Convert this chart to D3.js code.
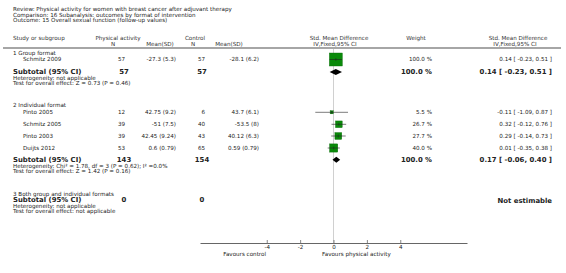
<!DOCTYPE html>
<html><head><meta charset="utf-8">
<script src="https://cdn.jsdelivr.net/npm/d3@7"></script>
<style>
body{margin:0;background:#fff;}
svg{display:block;font-family:"DejaVu Sans",Verdana,sans-serif;}
</style></head>
<body><svg id="c" width="566" height="273"></svg>
<script>
// ---- data ----
const titleLines = [
  "Review:  Physical activity for women with breast cancer after adjuvant therapy",
  "Comparison:  16 Subanalysis: outcomes by format of intervention",
  "Outcome:  15 Overall sexual function (follow-up values)"
];
const groupNames = ["1 Group format", "2 Individual format", "3 Both group and individual formats"];
const studies   = ["Schmitz 2009", "Pinto 2005", "Schmitz 2005", "Pinto 2003", "Duijts 2012"];
const studyGroup = [0, 1, 1, 1, 1];
const expN    = [57, 12, 39, 39, 53];
const expMSD  = ["-27.3 (5.3)", "42.75 (9.2)", "-51 (7.5)", "42.45 (9.24)", "0.6 (0.79)"];
const ctlN    = [57, 6, 40, 43, 65];
const ctlMSD  = ["-28.1 (6.2)", "43.7 (6.1)", "-53.5 (8)", "40.12 (6.3)", "0.59 (0.79)"];
const smd     = [0.14, -0.11, 0.32, 0.29, 0.01];
const smdLo   = [-0.23, -1.09, -0.12, -0.14, -0.35];
const smdHi   = [0.51, 0.87, 0.76, 0.73, 0.38];
const weight  = [100.0, 5.5, 26.7, 27.7, 40.0];
const subExpN = [57, 143, 0];
const subCtlN = [57, 154, 0];
const subSmd  = [0.14, 0.17, null];
const subLo   = [-0.23, -0.06, null];
const subHi   = [0.51, 0.40, null];
const subWeight = ["100.0 %", "100.0 %", ""];
const heterogeneity = ["Heterogeneity: not applicable",
  "Heterogeneity: Chi\u00B2 = 1.78, df = 3 (P = 0.62); I\u00B2 =0.0%",
  "Heterogeneity: not applicable"];
const overallTest = ["Test for overall effect: Z = 0.73 (P = 0.46)",
  "Test for overall effect: Z = 1.42 (P = 0.16)",
  "Test for overall effect: not applicable"];
const axisTicks = [-4, -2, 0, 2, 4];
const favourLabels = ["Favours control", "Favours physical activity"];

// ---- layout ----
const svg = d3.select("#c");
const fs = 5.6, fsB = 6.9;
const txt = "#222", hdr = "#333";
const x = d3.scaleLinear().domain([-8, 8]).range([200, 467]);
const axisY = 243, topLine = 48;

function t(xp, yp, s, opt = {}) {
  return svg.append("text").attr("x", xp).attr("y", yp).attr("dy", "0.35em")
    .attr("font-size", opt.size || fs).attr("font-weight", opt.bold ? "bold" : null)
    .attr("text-anchor", opt.anchor || "start").attr("fill", opt.fill || txt).text(s);
}

titleLines.forEach((s, i) => t(13, 9.5 + i * 5.3, s));

// headers
t(13, 38, "Study or subgroup", {fill: hdr});
t(118, 38, "Physical activity", {anchor: "middle", fill: hdr});
t(113, 44, "N", {anchor: "middle", fill: hdr});
t(160, 44, "Mean(SD)", {anchor: "middle", fill: hdr});
t(195, 38, "Control", {anchor: "middle", fill: hdr});
t(193, 44, "N", {anchor: "middle", fill: hdr});
t(229, 44, "Mean(SD)", {anchor: "middle", fill: hdr});
t(339, 38, "Std. Mean Difference", {anchor: "middle", fill: hdr});
t(335, 44, "IV,Fixed,95% CI", {anchor: "middle", fill: hdr});
t(416, 38, "Weight", {anchor: "middle", fill: hdr});
t(518, 38, "Std. Mean Difference", {anchor: "middle", fill: hdr});
t(515, 44, "IV,Fixed,95% CI", {anchor: "middle", fill: hdr});

svg.append("line").attr("x1", 3).attr("x2", 561).attr("y1", topLine).attr("y2", topLine)
  .attr("stroke", "#888").attr("stroke-width", 1.6);

// zero line
svg.append("line").attr("x1", x(0)).attr("x2", x(0)).attr("y1", topLine + 1).attr("y2", axisY)
  .attr("stroke", "#c4c4c4").attr("stroke-width", 0.8);

// row positions
const groupHeadY = [53, 105.5, 194];
const studyY = [59.5, 112.3, 124.3, 136, 148];
const subY = [72, 159.7, 199.7];
const hetY = [78.2, 165.9, 206];
const testY = [83, 170.7, 211];

const fmt = v => d3.format(".2f")(v).replace("\u2212", "-");

groupNames.forEach((g, gi) => t(13, groupHeadY[gi], g));

const maxSide = 13;
studies.forEach((s, i) => {
  const y = studyY[i];
  t(23, y, s);
  t(125, y, expN[i], {anchor: "end"});
  t(176, y, expMSD[i], {anchor: "end"});
  t(205, y, ctlN[i], {anchor: "end"});
  t(259, y, ctlMSD[i], {anchor: "end"});
  t(432, y, d3.format(".1f")(weight[i]) + " %", {anchor: "end"});
  t(552, y, `${fmt(smd[i])} [ ${fmt(smdLo[i])}, ${fmt(smdHi[i])} ]`, {anchor: "end"});
  const side = maxSide * Math.sqrt(weight[i] / 100);
  svg.append("rect").attr("x", x(smd[i]) - side / 2).attr("y", y - side / 2)
    .attr("width", side).attr("height", side).attr("fill", "#0a8a0a").attr("stroke", "#0b6b0b").attr("stroke-width", 0.4);
  svg.append("line").attr("x1", x(smdLo[i])).attr("x2", x(smdHi[i])).attr("y1", y).attr("y2", y)
    .attr("stroke", "#222").attr("stroke-width", 0.6);
  svg.append("line").attr("x1", x(smd[i])).attr("x2", x(smd[i])).attr("y1", y - 1.5).attr("y2", y + 1.5)
    .attr("stroke", "#222").attr("stroke-width", 0.5);
});

subY.forEach((y, gi) => {
  t(13, y, "Subtotal (95% CI)", {bold: true, size: fsB});
  t(124, y, subExpN[gi], {bold: true, size: fsB, anchor: "middle"});
  t(202, y, subCtlN[gi], {bold: true, size: fsB, anchor: "middle"});
  if (subSmd[gi] !== null) {
    t(432, y, subWeight[gi], {bold: true, size: fsB, anchor: "end"});
    t(552, y, `${fmt(subSmd[gi])} [ ${fmt(subLo[gi])}, ${fmt(subHi[gi])} ]`, {bold: true, size: fsB, anchor: "end"});
    const h = 3;
    const pts = [[x(subLo[gi]), y], [x(subSmd[gi]), y - h], [x(subHi[gi]), y], [x(subSmd[gi]), y + h]];
    svg.append("polygon").attr("points", pts.map(p => p.join(",")).join(" ")).attr("fill", "#000");
  } else {
    t(552, y + 1, "Not estimable", {bold: true, size: fsB, anchor: "end"});
  }
  t(13, hetY[gi], heterogeneity[gi]);
  t(13, testY[gi], overallTest[gi]);
});

// axis
const ax = svg.append("g").attr("transform", `translate(0,${axisY})`)
  .call(d3.axisBottom(x).tickValues(axisTicks).tickFormat(d3.format("d")).tickSizeInner(-3).tickSizeOuter(0).tickPadding(2.5));
ax.select(".domain").attr("stroke", "#555").attr("stroke-width", 0.9);
ax.selectAll(".tick line").attr("stroke", "#555").attr("stroke-width", 0.7);
ax.selectAll(".tick text").attr("font-size", fs).attr("fill", txt).attr("font-family", "DejaVu Sans, sans-serif")
  .text(d => d < 0 ? "-" + Math.abs(d) : d);

t(266, 254, favourLabels[0], {anchor: "end"});
t(322, 254, favourLabels[1]);
</script></body></html>
